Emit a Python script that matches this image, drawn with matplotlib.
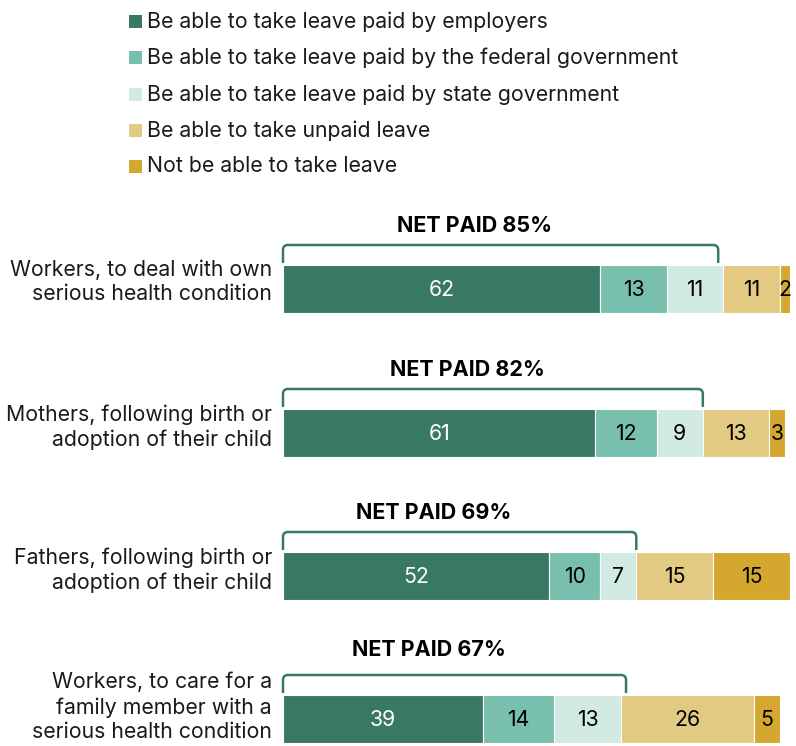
import matplotlib
matplotlib.use("Agg")
import matplotlib.pyplot as plt
from matplotlib.path import Path
from matplotlib.patches import PathPatch, Rectangle

plt.rcParams['font.family'] = ['Inter', 'DejaVu Sans']

series = [
    "Be able to take leave paid by employers",
    "Be able to take leave paid by the federal government",
    "Be able to take leave paid by state government",
    "Be able to take unpaid leave",
    "Not be able to take leave",
]
colors = ["#3a7866", "#78c0ad", "#d1eae4", "#e3ca82", "#d4a72f"]
text_colors = ["white", "black", "black", "black", "black"]

categories = [
    "Workers, to deal with own\nserious health condition",
    "Mothers, following birth or\nadoption of their child",
    "Fathers, following birth or\nadoption of their child",
    "Workers, to care for a\nfamily member with a\nserious health condition",
]
employer = [62, 61, 52, 39]
federal = [13, 12, 10, 14]
state = [11, 9, 7, 13]
unpaid = [11, 13, 15, 26]
no_leave = [2, 3, 15, 5]
net_paid = [85, 82, 69, 67]

values = [employer, federal, state, unpaid, no_leave]

W, H = 796, 746
X0 = 283          # pixel where bars start
SCALE = 5.12      # pixels per percentage point

fig = plt.figure(figsize=(W / 100, H / 100), dpi=100)
ax = fig.add_axes([0, 0, 1, 1])
ax.set_xlim(-X0 / SCALE, (W - X0) / SCALE)
ax.set_ylim(H, 0)
ax.axis("off")


def px(xp):
    return (xp - X0) / SCALE


FS = 15.3

# Legend
legend_y = [21.5, 57.5, 94.5, 130.5, 166.5]
for name, col, ly in zip(series, colors, legend_y):
    ax.add_patch(Rectangle((px(129), ly - 6.5), 13 / SCALE, 13, facecolor=col,
                           edgecolor="none"))
    ax.text(px(147), ly, name, fontsize=FS, va="center", ha="left",
            color="#1a1a1a")

bar_tops = [265, 409, 552, 695]
bar_h = 48
label_y = [226, 370, 513, 650]
cat_y = [282, 427, 570, 707]

for i, cat in enumerate(categories):
    top = bar_tops[i]
    yc = top + bar_h / 2
    left = 0
    for k in range(len(series)):
        v = values[k][i]
        ax.barh(yc, v, left=left, height=bar_h, color=colors[k],
                edgecolor="white", linewidth=0.8)
        ax.text(left + v / 2, yc + 1, str(v), ha="center", va="center",
                fontsize=FS, color=text_colors[k])
        left += v

    # Category label
    ax.text(px(272), cat_y[i], cat, ha="right", va="center", fontsize=FS,
            color="#1a1a1a", linespacing=1.28)

    # Bracket spanning the paid share
    x1 = 0
    x2 = net_paid[i]
    bt = top - 20
    bb = top - 2
    r = 5
    rx = r / SCALE
    verts = [
        (x1, bb), (x1, bt + r), (x1, bt), (x1 + rx, bt),
        (x2 - rx, bt), (x2, bt), (x2, bt + r), (x2, bb),
    ]
    codes = [Path.MOVETO, Path.LINETO, Path.CURVE3, Path.CURVE3,
             Path.LINETO, Path.CURVE3, Path.CURVE3, Path.LINETO]
    ax.add_patch(PathPatch(Path(verts, codes), facecolor="none",
                           edgecolor="#3a7866", linewidth=1.8,
                           capstyle="butt", zorder=1))

    ax.text(net_paid[i] / 2 - 5, label_y[i], f"NET PAID {net_paid[i]}%",
            ha="center", va="center", fontsize=15.5, fontweight="bold",
            color="black")

fig.savefig("out.png", dpi=100)
